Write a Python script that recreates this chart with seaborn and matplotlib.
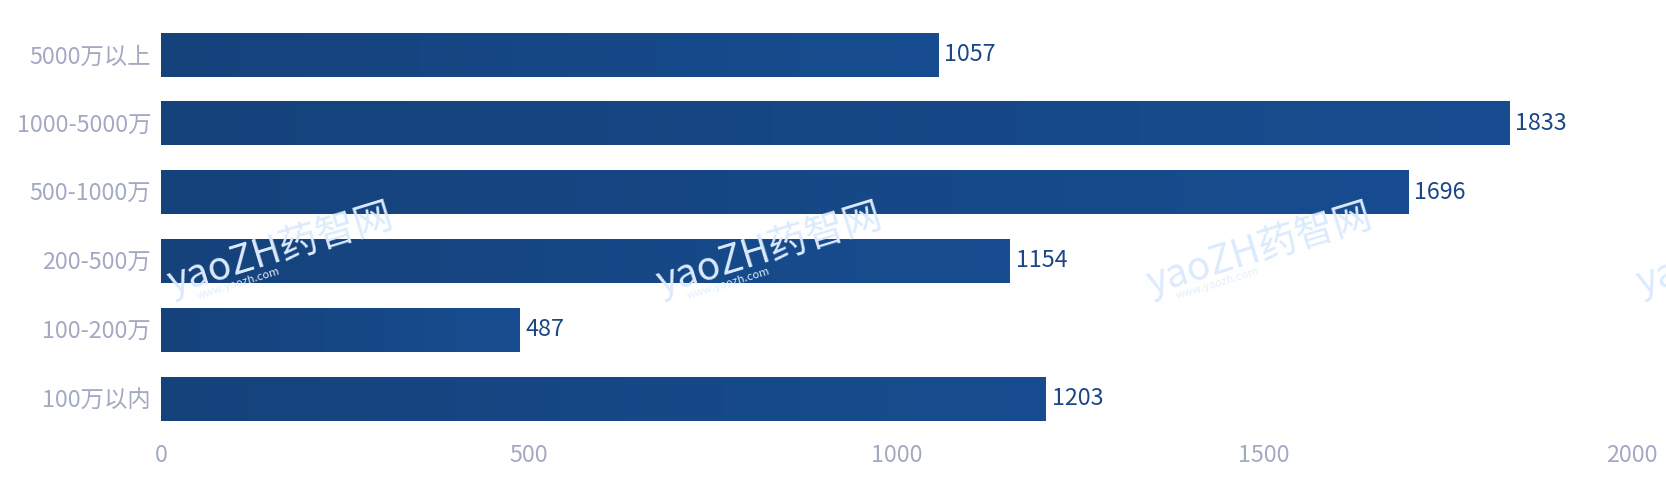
import numpy as np
import pandas as pd
import matplotlib
matplotlib.use("Agg")
import matplotlib.pyplot as plt
import seaborn as sns

categories = ["5000万以上", "1000-5000万", "500-1000万", "200-500万", "100-200万", "100万以内"]
counts = [1057, 1833, 1696, 1154, 487, 1203]
x_ticks = [0, 500, 1000, 1500, 2000]

sns.set_style("white")
plt.rcParams["font.family"] = ["Noto Sans CJK SC", "DejaVu Sans"]

df = pd.DataFrame({"range": categories, "count": counts})

fig = plt.figure(figsize=(16.66, 4.98), dpi=100)
ax = fig.add_axes([0.0966, 0.1305, 0.883, 0.829])

# faint watermark behind the bars
for wx in [0.168, 0.462, 0.756, 1.05]:
    fig.text(wx, 0.50, "yaoZH药智网", color="#dbeafc", fontsize=28,
             rotation=17, ha="center", va="center", zorder=0)
    fig.text(wx - 0.025, 0.43, "www.yaozh.com", color="#e4eefb", fontsize=8,
             rotation=17, ha="center", va="center", zorder=0)
ax.patch.set_alpha(0)

sns.barplot(data=df, y="range", x="count", orient="h", color="#16478a",
            width=0.64, saturation=1, ax=ax, zorder=2)

# left-to-right gradient on each bar
grad = np.linspace(0, 1, 256).reshape(1, -1)
cmap = matplotlib.colors.LinearSegmentedColormap.from_list("g", ["#15427b", "#174d90"])
for p in ax.patches:
    x0, y0 = p.get_x(), p.get_y()
    w, h = p.get_width(), p.get_height()
    im = ax.imshow(grad, cmap=cmap, aspect="auto", extent=[x0, x0 + w, y0 + h, y0],
                   zorder=3, interpolation="bilinear")
    im.set_clip_path(p)

for i, v in enumerate(counts):
    ax.text(v + 8, i, str(v), va="center", ha="left", fontsize=16.8, color="#1b4786", zorder=4)

ax.set_xlim(0, 2000)
ax.set_ylim(len(categories) - 0.5, -0.5)
ax.set_xticks(x_ticks)
ax.set_xlabel("")
ax.set_ylabel("")
ax.tick_params(axis="both", length=0, labelsize=16.8, labelcolor="#a3a8c3")
ax.tick_params(axis="y", pad=7)
ax.tick_params(axis="x", pad=8)
for s in ax.spines.values():
    s.set_visible(False)

fig.savefig("out.png", dpi=100)
